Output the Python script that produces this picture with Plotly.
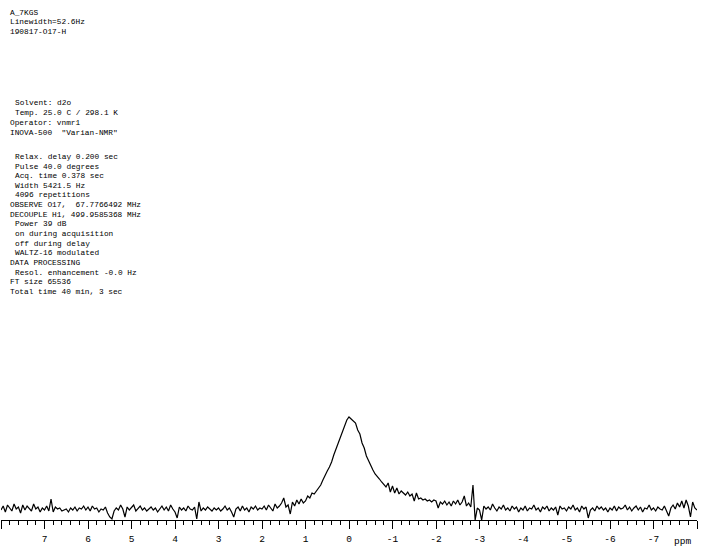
import plotly.graph_objects as go

# ---------------- data ----------------
ppm_start = 8.0
ppm_step = 0.05
# intensity (arbitrary units) sampled every 0.05 ppm from 8.00 down to -8.00
intensity = [
    10, 14, 8, 15, 12, 9, 16, 11, 13, 7, 15, 10, 14, 12, 9, 16, 11, 13, 8, 12,          # 8.00 .. 7.05
    10, 14, 9, 21, 8, 13, 11, 12, 9, 10, 11, 8, 12, 10, 13, 9, 12, 11, 14, 10,          # 7.00 .. 6.05
    13, 9, 14, 11, 12, 8, 11, 10, 13, 7, 3, 1, 9, 12, 10, 15, 11, 3, 13, 10,            # 6.00 .. 5.05
    12, 15, 9, 11, 14, 10, 12, 9, 11, 13, 10, 12, 8, 11, 14, 10, 13, 9, 15, 11,         # 5.00 .. 4.05
    8, 2, 13, 10, 12, 9, 14, 11, 10, 13, 1, 18, 9, 12, 10, 13, 11, 9, 12, 10,           # 4.00 .. 3.05
    12, 9, 11, 14, 10, 12, 8, 3, 11, 13, 9, 14, 10, 12, 8, 13, 11, 14, 10, 12,          # 3.00 .. 2.05
    11, 14, 10, 15, 12, 9, 16, 12, 14, 17, 22, 13, 15, 6, 18, 14, 20, 16, 21, 17,       # 2.00 .. 1.05
    19, 24, 22, 27, 26, 29, 31, 35, 40, 45, 49, 53, 58, 65, 71, 77, 84, 90, 96, 100,    # 1.00 .. 0.05
    103, 101, 99, 97, 90, 86, 77, 72, 64, 59, 54, 50, 46, 44, 41, 38, 36, 33, 37, 28,   # 0.00 .. -0.95
    34, 27, 32, 26, 29, 27, 25, 28, 24, 26, 19, 27, 21, 22, 20, 21, 19, 20, 18, 20,     # -1.00 .. -1.95
    19, 12, 18, 16, 19, 15, 18, 14, 19, 16, 20, 15, 18, 24, 14, 17, 13, 35, 0, 12,      # -2.00 .. -2.95
    10, 0, 14, 11, 13, 10, 16, 12, 9, 13, 11, 15, 10, 12, 9, 14, 11, 13, 8, 12,         # -3.00 .. -3.95
    10, 14, 9, 12, 11, 15, 10, 12, 8, 13, 11, 14, 9, 12, 10, 13, 5, 14, 11, 12,         # -4.00 .. -4.95
    9, 13, 11, 15, 10, 12, 8, 14, 11, 13, 2, 10, 12, 9, 14, 11, 13, 10, 12, 8,          # -5.00 .. -5.95
    12, 10, 14, 9, 13, 11, 12, 15, 10, 13, 9, 12, 14, 10, 13, 8, 12, 11, 15, 10,        # -6.00 .. -6.95
    12, 9, 13, 11, 10, 14, 9, 4, 12, 15, 11, 17, 13, 19, 12, 20, 14, 3, 18, 12,         # -7.00 .. -7.95
    10,                                                                                  # -8.00
]
ppm = [round(ppm_start - ppm_step * i, 2) for i in range(len(intensity))]

tick_vals = [8, 7, 6, 5, 4, 3, 2, 1, 0, -1, -2, -3, -4, -5, -6, -7, -8]
tick_text = ["", "7", "6", "5", "4", "3", "2", "1", "0", "-1", "-2", "-3", "-4", "-5", "-6", "-7", ""]

header_lines = ["A_7KGS", "Linewidth=52.6Hz", "190817-O17-H"]
param_lines = [
    (" ", "Solvent: d2o"),
    (" ", "Temp. 25.0 C / 298.1 K"),
    ("", "Operator: vnmr1"),
    ("", "INOVA-500\u00a0\u00a0\"Varian-NMR\""),
    (" ", "Relax. delay 0.200 sec"),
    (" ", "Pulse 40.0 degrees"),
    (" ", "Acq. time 0.378 sec"),
    (" ", "Width 5421.5 Hz"),
    (" ", "4096 repetitions"),
    ("", "OBSERVE O17,\u00a0\u00a067.7766492 MHz"),
    ("", "DECOUPLE H1, 499.9585368 MHz"),
    (" ", "Power 39 dB"),
    (" ", "on during acquisition"),
    (" ", "off during delay"),
    (" ", "WALTZ-16 modulated"),
    ("", "DATA PROCESSING"),
    (" ", "Resol. enhancement -0.0 Hz"),
    ("", "FT size 65536"),
    ("", "Total time 40 min, 3 sec"),
]

# ---------------- layout geometry ----------------
W, H = 707, 554
ML, MR, MT, MB = 1, 10, 410, 34
PW = W - ML - MR
PH = H - MT - MB
YMAX = 110
FONT = "Liberation Mono, Courier New, monospace"


def px_x(px):
    return (px - ML) / PW


def px_y(py):
    return (H - MB - py) / PH


fig = go.Figure()
fig.add_trace(go.Scatter(
    x=ppm, y=intensity, mode="lines",
    line=dict(color="black", width=1.2),
    hoverinfo="skip", showlegend=False,
))

annotations = []
header_y = [12.5, 22, 32]
for txt, y in zip(header_lines, header_y):
    annotations.append(dict(text=txt, x=px_x(8), y=px_y(y), xref="paper", yref="paper",
                            xanchor="left", yanchor="middle", showarrow=False,
                            font=dict(family=FONT, size=7.8, color="black")))

param_y = [103, 113, 123, 132.5, 157, 167, 176, 186, 195, 205, 215, 224, 234, 244,
           253, 263, 273, 282, 292]
for (indent, txt), y in zip(param_lines, param_y):
    x0 = 12.5 if indent else 8
    annotations.append(dict(text=txt, x=px_x(x0), y=px_y(y), xref="paper", yref="paper",
                            xanchor="left", yanchor="middle", showarrow=False,
                            font=dict(family=FONT, size=7.8, color="black")))

annotations.append(dict(text="ppm", x=px_x(682), y=px_y(541), xref="paper", yref="paper",
                        xanchor="center", yanchor="middle", showarrow=False,
                        font=dict(family=FONT, size=9.5, color="black")))

fig.update_layout(
    width=W, height=H,
    margin=dict(l=ML, r=MR, t=MT, b=MB, pad=0),
    paper_bgcolor="white", plot_bgcolor="white",
    annotations=annotations,
    hovermode=False,
    xaxis=dict(
        range=[8.0, -8.0], autorange=False,
        showgrid=False, zeroline=False,
        showline=True, linecolor="black", linewidth=1,
        tickmode="array", tickvals=tick_vals, ticktext=tick_text,
        ticks="outside", ticklen=8, tickwidth=1, tickcolor="black",
        tickfont=dict(family=FONT, size=9.5, color="black"),
        ticklabelstandoff=2,
        minor=dict(tickmode="linear", tick0=0, dtick=0.2, ticks="outside",
                   ticklen=4, tickwidth=1, tickcolor="black", showgrid=False),
    ),
    yaxis=dict(range=[0, YMAX], visible=False, showgrid=False, zeroline=False),
)

fig.write_html("out.html",
               config={"displayModeBar": False, "staticPlot": True},
               post_script="document.body.style.margin='0';document.body.style.padding='0';")
